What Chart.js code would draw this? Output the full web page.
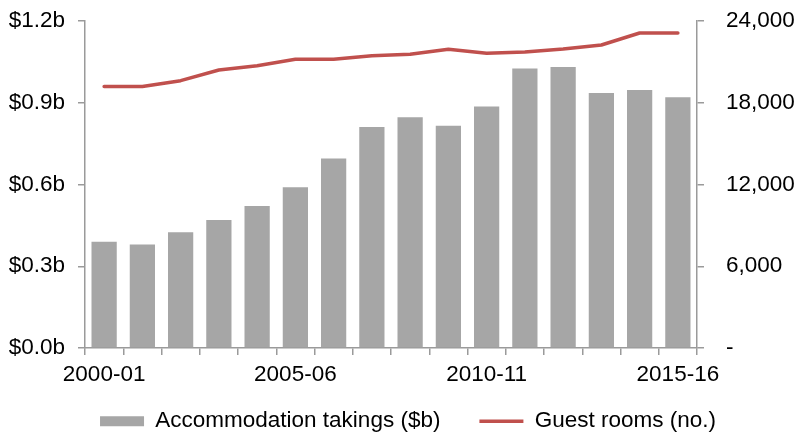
<!DOCTYPE html>
<html>
<head>
<meta charset="utf-8">
<script src="https://cdn.jsdelivr.net/npm/chart.js@4/dist/chart.umd.min.js"></script>
<style>
  html, body { margin: 0; padding: 0; background: #ffffff; }
  #c { display: block; }
</style>
</head>
<body>
<canvas id="c" width="794" height="434"></canvas>
<script>
const categories = ['2000-01','2001-02','2002-03','2003-04','2004-05','2005-06','2006-07','2007-08','2008-09','2009-10','2010-11','2011-12','2012-13','2013-14','2014-15','2015-16'];
const takings = [0.39, 0.38, 0.425, 0.47, 0.521, 0.59, 0.695, 0.811, 0.847, 0.816, 0.886, 1.026, 1.031, 0.936, 0.947, 0.92];
const rooms = [19200, 19200, 19620, 20400, 20720, 21190, 21190, 21450, 21560, 21920, 21630, 21730, 21950, 22240, 23120, 23120];
const leftTicks = [0, 0.3, 0.6, 0.9, 1.2];
const rightTicks = [0, 6000, 12000, 18000, 24000];
const shownLabels = ['2000-01', '2005-06', '2010-11', '2015-16'];

const GRAY = '#A6A6A6';
const RED = '#C0504D';
const AXIS = '#9A9A9A';
const FONT = { family: '"Liberation Sans", Arial, sans-serif', size: 22.5 };

Chart.defaults.color = '#000000';
Chart.defaults.font.family = FONT.family;
Chart.defaults.font.size = FONT.size;

const legendFix = {
  id: 'legendFix',
  beforeLayout(chart) {
    const lg = chart.legend;
    if (lg && !lg._patched) {
      const f = lg.fit;
      lg.fit = function () { f.call(this); this.height = 28; };
      lg._patched = true;
    }
  },
  afterLayout(chart) {
    const lg = chart.legend;
    if (lg) {
      lg.left = 22; lg.right = 794; lg.width = lg.right - lg.left;
      lg.top = 371; lg.bottom = 434; lg.height = 63;
    }
  }
};

function fixY(width) {
  return function (s) {
    s.width = width;
    s.paddingTop = 0;
    s.paddingBottom = 0;
  };
}

new Chart(document.getElementById('c'), {
  data: {
    labels: categories,
    datasets: [
      {
        type: 'bar',
        label: 'Accommodation takings ($b)',
        data: takings,
        yAxisID: 'y',
        backgroundColor: GRAY,
        borderWidth: 0,
        barPercentage: 0.66,
        categoryPercentage: 1,
        order: 2
      },
      {
        type: 'line',
        label: 'Guest rooms (no.)',
        data: rooms,
        yAxisID: 'y1',
        borderColor: RED,
        backgroundColor: RED,
        borderWidth: 3.5,
        pointRadius: 0,
        tension: 0,
        borderCapStyle: 'round',
        borderJoinStyle: 'round',
        order: 1
      }
    ]
  },
  options: {
    responsive: false,
    animation: false,
    events: [],
    layout: { padding: { left: 0, top: 21, right: 0, bottom: 0 } },
    plugins: {
      tooltip: { enabled: false },
      legend: {
        position: 'bottom',
        align: 'center',
        labels: {
          usePointStyle: true,
          pointStyleWidth: 44,
          boxHeight: 10,
          padding: 39,
          font: FONT,
          color: '#000000',
          generateLabels(chart) {
            return chart.data.datasets.map((ds, i) => ({
              text: ds.label,
              fillStyle: ds.type === 'bar' ? ds.backgroundColor : ds.borderColor,
              strokeStyle: ds.type === 'bar' ? ds.backgroundColor : ds.borderColor,
              lineWidth: ds.type === 'bar' ? 0 : ds.borderWidth,
              pointStyle: ds.type === 'bar' ? 'rect' : 'line',
              hidden: false,
              datasetIndex: i
            }));
          }
        }
      }
    },
    scales: {
      x: {
        type: 'category',
        offset: true,
        grid: { offset: true, drawOnChartArea: false, drawTicks: true, tickLength: 7, color: AXIS, lineWidth: 1.5 },
        border: { display: true, color: AXIS, width: 1.5 },
        ticks: {
          autoSkip: false,
          maxRotation: 0,
          padding: 6,
          font: FONT,
          color: '#000000',
          callback(v, i) { const l = categories[i]; return shownLabels.includes(l) ? l : ''; }
        },
        afterFit(s) { s.height = 58; }
      },
      y: {
        position: 'left',
        min: leftTicks[0],
        max: leftTicks[leftTicks.length - 1],
        afterBuildTicks(s) { s.ticks = leftTicks.map(v => ({ value: v })); },
        grid: { drawOnChartArea: false, drawTicks: true, tickLength: 7, color: AXIS, lineWidth: 1.5 },
        border: { display: true, color: AXIS, width: 1.5 },
        ticks: {
          padding: 13,
          font: FONT,
          color: '#000000',
          callback(v) { return '$' + Number(v).toFixed(1) + 'b'; }
        },
        afterFit: fixY(85)
      },
      y1: {
        position: 'right',
        min: rightTicks[0],
        max: rightTicks[rightTicks.length - 1],
        afterBuildTicks(s) { s.ticks = rightTicks.map(v => ({ value: v })); },
        grid: { drawOnChartArea: false, drawTicks: true, tickLength: 7, color: AXIS, lineWidth: 1.5 },
        border: { display: true, color: AXIS, width: 1.5 },
        ticks: {
          padding: 22,
          font: FONT,
          color: '#000000',
          callback(v) { return v === 0 ? '-' : Number(v).toLocaleString('en-US'); }
        },
        afterFit: fixY(97)
      }
    }
  },
  plugins: [legendFix]
});
</script>
</body>
</html>
